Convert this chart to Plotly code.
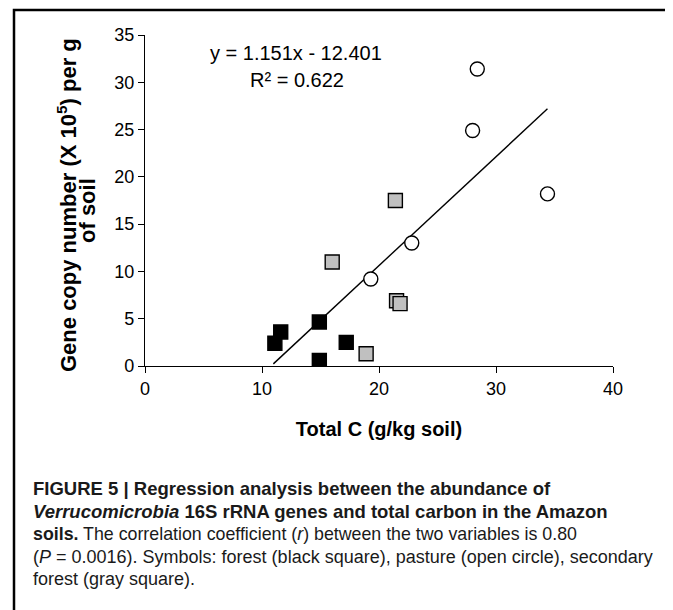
import plotly.graph_objects as go

# ---- data ----
forest_x = [11.6, 11.1, 14.9, 17.2, 14.9]
forest_y = [3.6, 2.4, 4.65, 2.5, 0.6]
pasture_x = [28.4, 28.0, 34.4, 22.8, 19.3]
pasture_y = [31.4, 24.9, 18.2, 13.0, 9.2]
secondary_x = [21.4, 16.0, 21.5, 21.8, 18.9]
secondary_y = [17.5, 11.0, 6.9, 6.6, 1.3]
slope = 1.151
intercept = -12.401
x_ticks = [0, 10, 20, 30, 40]
y_ticks = [0, 5, 10, 15, 20, 25, 30, 35]

OFF = 8  # page body margin
W, H = 673 - OFF, 610 - OFF
PLOT_L, PLOT_R, PLOT_T, PLOT_B = 145, 613, 35, 366  # page pixels of plot area
L, T = PLOT_L - OFF, PLOT_T - OFF
R = W - (PLOT_R - OFF)
B = H - (PLOT_B - OFF)
PW, PH = PLOT_R - PLOT_L, PLOT_B - PLOT_T


def px(x):
    return (x - PLOT_L) / PW


def py(y):
    return (PLOT_B - y) / PH


all_x = forest_x + pasture_x + secondary_x
line_x = [min(all_x) - 0.13, max(all_x)]
line_y = [slope * v + intercept for v in line_x]

fig = go.Figure()
fig.add_trace(go.Scatter(x=line_x, y=line_y, mode="lines",
                         line=dict(color="black", width=1.4), showlegend=False))
fig.add_trace(go.Scatter(x=secondary_x, y=secondary_y, mode="markers",
                         marker=dict(symbol="square", size=14, color="#c0c0c0",
                                     line=dict(color="black", width=1.4)),
                         showlegend=False))
fig.add_trace(go.Scatter(x=forest_x, y=forest_y, mode="markers",
                         marker=dict(symbol="square", size=14, color="black",
                                     line=dict(color="black", width=1.4)),
                         showlegend=False))
fig.add_trace(go.Scatter(x=pasture_x, y=pasture_y, mode="markers",
                         marker=dict(symbol="circle", size=14, color="white",
                                     line=dict(color="black", width=1.4)),
                         showlegend=False))

axis_common = dict(showline=True, linecolor="black", linewidth=1.3,
                   ticks="outside", ticklen=6, tickwidth=1.3, tickcolor="black",
                   showgrid=False, zeroline=False,
                   tickfont=dict(family="Liberation Sans", size=18, color="black"))
fig.update_xaxes(range=[0, 40], tickvals=x_ticks,
                 title=dict(text="<b>Total C (g/kg soil)</b>", standoff=24,
                            font=dict(family="Liberation Sans", size=20, color="black")),
                 **axis_common)
fig.update_yaxes(range=[0, 35], tickvals=y_ticks, **axis_common)

ann = []
ann.append(dict(text="y = 1.151x - 12.401", x=px(296), y=py(53), xref="paper", yref="paper",
                showarrow=False, xanchor="center", yanchor="middle",
                font=dict(family="Liberation Sans", size=20, color="black")))
ann.append(dict(text="R² = 0.622", x=px(297), y=py(80), xref="paper", yref="paper",
                showarrow=False, xanchor="center", yanchor="middle",
                font=dict(family="Liberation Sans", size=20, color="black")))
ann.append(dict(text="<b>Gene copy number (X 10<sup>5</sup>) per g</b>", x=px(67), y=py(205),
                xref="paper", yref="paper", showarrow=False, textangle=-90,
                xanchor="center", yanchor="middle",
                font=dict(family="Liberation Sans", size=22, color="black")))
ann.append(dict(text="<b>of soil</b>", x=px(87), y=py(211),
                xref="paper", yref="paper", showarrow=False, textangle=-90,
                xanchor="center", yanchor="middle",
                font=dict(family="Liberation Sans", size=22, color="black")))

caption = [
    ("<b>FIGURE 5 | Regression analysis between the abundance of</b>", 18.5),
    ("<b><i>Verrucomicrobia</i> 16S rRNA genes and total carbon in the Amazon</b>", 18.5),
    ("<b>soils.</b> The correlation coefficient (<i>r</i>) between the two variables is 0.80", 17.8),
    ("(<i>P</i> = 0.0016). Symbols: forest (black square), pasture (open circle), secondary", 18),
    ("forest (gray square).", 18),
]
for i, (line, fs) in enumerate(caption):
    ann.append(dict(text=line, x=px(31), y=py(489 + i * 22.6), xref="paper", yref="paper",
                    showarrow=False, xanchor="left", yanchor="middle",
                    font=dict(family="Liberation Sans", size=fs, color="#1a1a1a")))

fig.update_layout(
    width=W, height=H,
    margin=dict(l=L, r=R, t=T, b=B, pad=0),
    paper_bgcolor="white", plot_bgcolor="white",
    annotations=ann,
    shapes=[dict(type="rect", xref="paper", yref="paper",
                 x0=px(14), x1=px(672), y0=py(640), y1=py(10),
                 line=dict(color="black", width=2.5), fillcolor="rgba(0,0,0,0)", layer="above")],
    showlegend=False,
)

fig.write_html("out.html")
